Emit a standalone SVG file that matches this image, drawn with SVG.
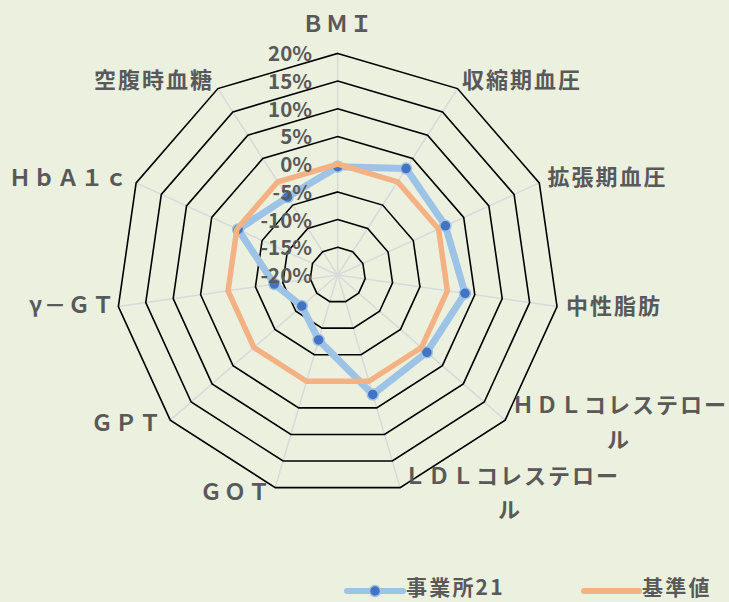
<svg xmlns="http://www.w3.org/2000/svg" width="729" height="602" viewBox="0 0 729 602">
<style>
  .lbl{font-family:"Noto Sans CJK JP","Noto Sans",sans-serif;font-weight:bold;fill:#595959;font-size:22px;letter-spacing:2px}
  .pct{font-family:"Noto Sans CJK JP","Noto Sans",sans-serif;font-weight:bold;fill:#595959;font-size:20.5px;text-anchor:end}
  .leg{font-family:"Noto Sans CJK JP","Noto Sans",sans-serif;font-weight:bold;fill:#595959;font-size:21px;letter-spacing:2.2px}
  .ring{fill:none;stroke:#000;stroke-width:1.6;stroke-linejoin:miter}
  .spoke{stroke:#D9D9D9;stroke-width:1.5}
  .s1{fill:none;stroke:#9DC3E6;stroke-width:7;stroke-linejoin:round;stroke-linecap:round}
  .s2{fill:none;stroke:#F4B183;stroke-width:5.5;stroke-linejoin:round;stroke-linecap:round}
  .mk{fill:#4472C4;stroke:#9DC3E6;stroke-width:1.5}
</style>
<rect x="0" y="0" width="729" height="602" fill="#EBF1DE"/>
<g id="grid" transform="translate(337.7 275)">
  <g id="spokes">
    <line class="spoke" x1="0" y1="0" x2="0" y2="-221.6"/>
    <line class="spoke" x1="0" y1="0" x2="119.81" y2="-186.42"/>
    <line class="spoke" x1="0" y1="0" x2="201.57" y2="-92.06"/>
    <line class="spoke" x1="0" y1="0" x2="219.34" y2="31.54"/>
    <line class="spoke" x1="0" y1="0" x2="167.47" y2="145.12"/>
    <line class="spoke" x1="0" y1="0" x2="62.43" y2="212.62"/>
    <line class="spoke" x1="0" y1="0" x2="-62.43" y2="212.62"/>
    <line class="spoke" x1="0" y1="0" x2="-167.47" y2="145.12"/>
    <line class="spoke" x1="0" y1="0" x2="-219.34" y2="31.54"/>
    <line class="spoke" x1="0" y1="0" x2="-201.57" y2="-92.06"/>
    <line class="spoke" x1="0" y1="0" x2="-119.81" y2="-186.42"/>
  </g>
  <g id="rings">
    <polygon class="ring" points="0,-27.7 14.98,-23.3 25.2,-11.51 27.42,3.94 20.93,18.14 7.8,26.58 -7.8,26.58 -20.93,18.14 -27.42,3.94 -25.2,-11.51 -14.98,-23.3"/>
    <polygon class="ring" points="0,-55.4 29.95,-46.61 50.39,-23.01 54.84,7.88 41.87,36.28 15.61,53.16 -15.61,53.16 -41.87,36.28 -54.84,7.88 -50.39,-23.01 -29.95,-46.61"/>
    <polygon class="ring" points="0,-83.1 44.93,-69.91 75.59,-34.52 82.25,11.83 62.8,54.42 23.41,79.73 -23.41,79.73 -62.8,54.42 -82.25,11.83 -75.59,-34.52 -44.93,-69.91"/>
    <polygon class="ring" points="0,-110.8 59.9,-93.21 100.79,-46.03 109.67,15.77 83.74,72.56 31.22,106.31 -31.22,106.31 -83.74,72.56 -109.67,15.77 -100.79,-46.03 -59.9,-93.21"/>
    <polygon class="ring" points="0,-138.5 74.88,-116.51 125.98,-57.54 137.09,19.71 104.67,90.7 39.02,132.89 -39.02,132.89 -104.67,90.7 -137.09,19.71 -125.98,-57.54 -74.88,-116.51"/>
    <polygon class="ring" points="0,-166.2 89.85,-139.82 151.18,-69.04 164.51,23.65 125.61,108.84 46.82,159.47 -46.82,159.47 -125.61,108.84 -164.51,23.65 -151.18,-69.04 -89.85,-139.82"/>
    <polygon class="ring" points="0,-193.9 104.83,-163.12 176.38,-80.55 191.93,27.59 146.54,126.98 54.63,186.04 -54.63,186.04 -146.54,126.98 -191.93,27.59 -176.38,-80.55 -104.83,-163.12"/>
    <polygon class="ring" points="0,-221.6 119.81,-186.42 201.57,-92.06 219.34,31.54 167.47,145.12 62.43,212.62 -62.43,212.62 -167.47,145.12 -219.34,31.54 -201.57,-92.06 -119.81,-186.42"/>
  </g>
</g>
<g id="series" transform="translate(337.7 275)">
  <g id="series-jigyosho21">
    <polygon class="s1" points="0,-108.3 68.39,-106.42 107.7,-49.19 127.29,18.3 89.18,77.27 35.08,119.46 -19.07,64.96 -35.9,31.11 -63.35,9.11 -99.6,-45.49 -50.06,-77.9"/>
    <g id="markers">
      <circle class="mk" cx="0" cy="-108.3" r="5.5"/>
      <circle class="mk" cx="68.39" cy="-106.42" r="5.5"/>
      <circle class="mk" cx="107.7" cy="-49.19" r="5.5"/>
      <circle class="mk" cx="127.29" cy="18.3" r="5.5"/>
      <circle class="mk" cx="89.18" cy="77.27" r="5.5"/>
      <circle class="mk" cx="35.08" cy="119.46" r="5.5"/>
      <circle class="mk" cx="-19.07" cy="64.96" r="5.5"/>
      <circle class="mk" cx="-35.9" cy="31.11" r="5.5"/>
      <circle class="mk" cx="-63.35" cy="9.11" r="5.5"/>
      <circle class="mk" cx="-99.6" cy="-45.49" r="5.5"/>
      <circle class="mk" cx="-50.06" cy="-77.9" r="5.5"/>
    </g>
  </g>
  <g id="series-kijunchi">
    <polygon class="s2" points="0,-110.8 59.9,-93.21 100.79,-46.03 109.67,15.77 83.74,72.56 31.22,106.31 -31.22,106.31 -83.74,72.56 -109.67,15.77 -100.79,-46.03 -59.9,-93.21"/>
  </g>
</g>
<g id="scale-labels">
  <text class="pct" x="312" y="61.3">20%</text>
  <text class="pct" x="312" y="89">15%</text>
  <text class="pct" x="312" y="116.7">10%</text>
  <text class="pct" x="312" y="144.4">5%</text>
  <text class="pct" x="312" y="172.1">0%</text>
  <text class="pct" x="312" y="199.8">-5%</text>
  <text class="pct" x="312" y="227.5">-10%</text>
  <text class="pct" x="312" y="255.2">-15%</text>
  <text class="pct" x="312" y="282.9">-20%</text>
</g>
<g id="axis-labels">
  <g id="ax-bmi"><text class="lbl" x="302" y="32.3">ＢＭＩ</text></g>
  <g id="ax-sbp"><text class="lbl" x="462" y="88.3">収縮期血圧</text></g>
  <g id="ax-dbp"><text class="lbl" x="547.5" y="185">拡張期血圧</text></g>
  <g id="ax-tg"><text class="lbl" x="566" y="314.3">中性脂肪</text></g>
  <g id="ax-hdl"><text class="lbl" x="512" y="413.3">ＨＤＬコレステロー</text><text class="lbl" x="607" y="448">ル</text></g>
  <g id="ax-ldl"><text class="lbl" x="404" y="484">ＬＤＬコレステロー</text><text class="lbl" x="498" y="518.3">ル</text></g>
  <g id="ax-got"><text class="lbl" x="200" y="500">ＧＯＴ</text></g>
  <g id="ax-gpt"><text class="lbl" x="91" y="430.7">ＧＰＴ</text></g>
  <g id="ax-ggt"><text class="lbl" x="29" y="313.3">γ－ＧＴ</text></g>
  <g id="ax-hba1c"><text class="lbl" x="9" y="185.7">ＨｂＡ１ｃ</text></g>
  <g id="ax-fbs"><text class="lbl" x="94" y="88.3">空腹時血糖</text></g>
</g>
<g id="legend">
  <g id="leg-jigyosho21">
    <line x1="347" y1="591" x2="403" y2="591" stroke="#9DC3E6" stroke-width="6" stroke-linecap="round"/>
    <circle class="mk" cx="375" cy="591" r="5.5"/>
    <text class="leg" x="406" y="595">事業所21</text>
  </g>
  <g id="leg-kijunchi">
    <line x1="584" y1="591" x2="639" y2="591" stroke="#F4B183" stroke-width="6" stroke-linecap="round"/>
    <text class="leg" x="642" y="595">基準値</text>
  </g>
</g>
</svg>
